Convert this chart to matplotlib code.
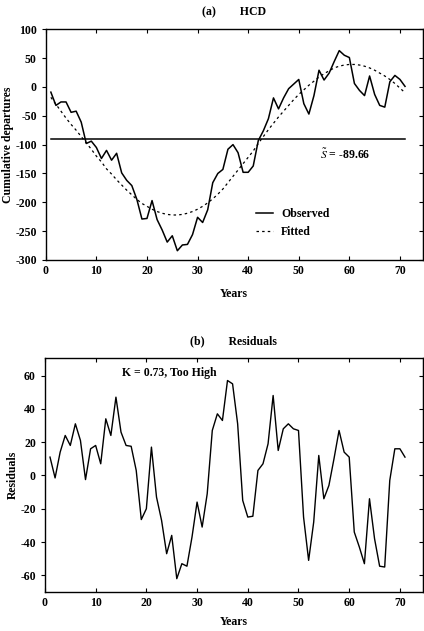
import matplotlib
matplotlib.use("Agg")
import matplotlib.pyplot as plt
import numpy as np

years = list(range(1, 72))

observed = [-9, -32, -26, -26, -44, -42, -61, -98, -94, -105,
            -124, -110, -127, -115, -149, -162, -171, -195, -229, -228,
            -197, -230, -248, -269, -258, -284, -274, -273, -256, -226,
            -235, -213, -166, -150, -143, -108, -100, -114, -148, -148,
            -137, -93, -76, -55, -19, -38, -19, -3, 5, 13,
            -29, -47, -15, 29, 12, 24, 44, 63, 55, 51,
            6, -6, -15, 19, -13, -32, -35, 9, 20, 13, 1]

fitted = [-18, -30, -42, -54, -65, -75, -86, -97, -108, -120,
          -130, -142, -151, -161, -170, -179, -187, -195, -202, -207,
          -212, -216, -219, -221, -222, -222, -221, -219, -216, -212,
          -207, -201, -194, -186, -177, -166, -155, -144, -133, -122,
          -111, -98, -86, -74, -63, -52, -42, -32, -22, -13,
          -5, 3, 10, 17, 23, 28, 33, 36, 38, 39,
          39, 38, 36, 33, 29, 24, 19, 13, 6, -2, -10]

residuals = [11, -1.5, 14, 24, 18, 31, 21, -2.5, 16, 18,
             7, 34, 24, 47, 26, 18, 17.5, 3, -26.5, -20,
             17, -13, -27, -47, -36, -62, -53, -54.5, -37, -16,
             -31, -11, 27, 37, 33, 57, 55, 31, -15, -25,
             -24.5, 3, 7, 19, 48, 15, 28, 31, 28, 27,
             -25, -51, -28, 12, -14, -6, 10, 27, 14, 11,
             -34, -43, -53, -14, -38, -54.5, -55, -3, 16, 16, 11]

s_mean = -89.66
k_text = "K = 0.73, Too High"

plt.rcParams['font.family'] = ['Liberation Serif', 'DejaVu Serif']
plt.rcParams['mathtext.fontset'] = 'stix'
plt.rcParams['axes.unicode_minus'] = False

fig = plt.figure(figsize=(4.24, 6.31), dpi=100)

ax1 = fig.add_axes([0.108, 0.588, 0.889, 0.3656])
ax2 = fig.add_axes([0.106, 0.0618, 0.891, 0.3708])

FS = 8.5

def style(ax, yticks):
    ax.set_xlim(0, 74.5)
    ax.set_xticks(range(0, 71, 10))
    ax.set_yticks(yticks)
    for sp in ax.spines.values():
        sp.set_linewidth(1.0)
    ax.tick_params(axis='both', labelsize=FS, length=3, width=0.8)
    ax.tick_params(axis='y', direction='out', right=False)
    ax.tick_params(axis='x', direction='in', top=True)
    for lbl in ax.get_xticklabels() + ax.get_yticklabels():
        lbl.set_fontweight('bold')
    sec = ax.secondary_yaxis('right')
    sec.set_yticks(yticks)
    sec.tick_params(direction='in', length=3, width=0.8, labelright=False)

# Panel (a)
ax1.plot(years, observed, color='black', lw=1.1, label='Observed')
ax1.plot(years, fitted, color='black', lw=0.9, linestyle=(0, (2, 2.5)), label='Fitted')
ax1.plot([years[0], years[-1]], [s_mean, s_mean], color='black', lw=1.1)
ax1.set_ylim(-300, 100)
style(ax1, list(range(-300, 101, 50)))
ax1.set_title('(a)        HCD', fontsize=FS, fontweight='bold', pad=10)
ax1.set_xlabel('Years', fontsize=FS, fontweight='bold', labelpad=8)
ax1.set_ylabel('Cumulative departures', fontsize=FS, fontweight='bold', labelpad=1)
ax1.text(54.2, -117, r'$\tilde{S}$ = -89.66', fontsize=FS, fontweight='bold', va='center')
ax1.legend(loc='upper left', bbox_to_anchor=(0.53, 0.27), frameon=False,
           handlelength=1.4, handletextpad=0.7, labelspacing=0.5,
           prop={'weight': 'bold', 'size': FS})

# Panel (b)
ax2.plot(years, residuals, color='black', lw=1.0)
ax2.set_ylim(-70, 70.5)
style(ax2, list(range(-60, 61, 20)))
ax2.set_title('(b)        Residuals', fontsize=FS, fontweight='bold', pad=10)
ax2.set_xlabel('Years', fontsize=FS, fontweight='bold', labelpad=5)
ax2.set_ylabel('Residuals', fontsize=FS, fontweight='bold', labelpad=1)
ax2.text(15.1, 61.5, k_text, fontsize=FS, fontweight='bold', va='center')

fig.savefig('out.png', dpi=100)
